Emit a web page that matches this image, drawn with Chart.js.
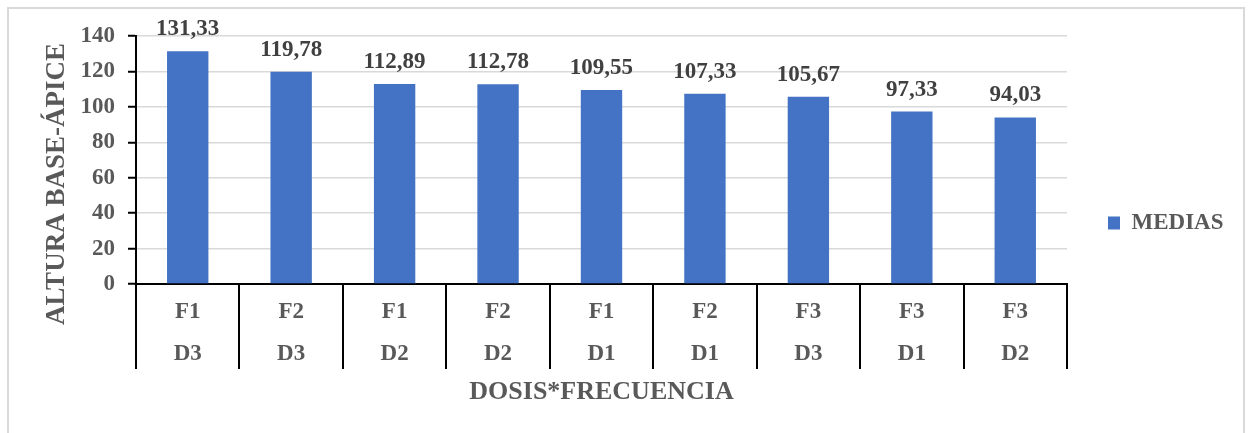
<!DOCTYPE html>
<html>
<head>
<meta charset="utf-8">
<script src="https://cdn.jsdelivr.net/npm/chart.js@4/dist/chart.umd.min.js"></script>
<style>
  html, body { margin: 0; padding: 0; background: #fff; overflow: hidden; }
  #wrap { position: absolute; left: 0; top: 0; width: 1250px; height: 433px; }
  #frame { position: absolute; left: 7px; top: 7px; width: 1238px; height: 460px;
           border: 2px solid #d9d9d9; box-sizing: border-box; pointer-events: none; }
</style>
</head>
<body>
<div id="wrap"><canvas id="c"></canvas></div>
<div id="frame"></div>
<script>
// Treatment combinations (frequency over dose) and their mean heights
const frecuencias = ['F1', 'F2', 'F1', 'F2', 'F1', 'F2', 'F3', 'F3', 'F3'];
const dosis       = ['D3', 'D3', 'D2', 'D2', 'D1', 'D1', 'D3', 'D1', 'D2'];
const medias      = [131.33, 119.78, 112.89, 112.78, 109.55, 107.33, 105.67, 97.33, 94.03];
const yTicks      = [0, 20, 40, 60, 80, 100, 120, 140];

const SERIF = "'Liberation Serif', 'Times New Roman', serif";
const GREY_TEXT = '#595959';

// Two-line category labels: frequency above dose
const categories = frecuencias.map((f, i) => [f, dosis[i]]);

// Value labels over each bar, written with a decimal comma
const barValueLabels = {
  id: 'barValueLabels',
  afterDatasetsDraw(chart) {
    const ctx = chart.ctx;
    const meta = chart.getDatasetMeta(0);
    ctx.save();
    ctx.font = 'bold 23px ' + SERIF;
    ctx.fillStyle = '#404040';
    ctx.textAlign = 'center';
    ctx.textBaseline = 'alphabetic';
    meta.data.forEach((bar, i) => {
      const txt = medias[i].toFixed(2).replace('.', ',');
      ctx.fillText(txt, bar.x, bar.y - 16);
    });
    ctx.restore();
  }
};

// Vertical title of the value axis
const valueAxisTitle = {
  id: 'valueAxisTitle',
  afterDraw(chart) {
    const ctx = chart.ctx;
    const y = chart.scales.y;
    const cx = y.left - 10;
    const cy = (chart.chartArea.top + chart.chartArea.bottom) / 2 + 24;
    ctx.save();
    ctx.translate(cx, cy);
    ctx.rotate(-Math.PI / 2);
    ctx.font = 'bold 27px ' + SERIF;
    ctx.fillStyle = GREY_TEXT;
    ctx.textAlign = 'center';
    ctx.textBaseline = 'middle';
    ctx.fillText('ALTURA BASE-ÁPICE', 0, 0);
    ctx.restore();
  }
};

new Chart(document.getElementById('c'), {
  type: 'bar',
  data: {
    labels: categories,
    datasets: [{
      label: 'MEDIAS',
      data: medias,
      backgroundColor: '#4472C4',
      borderWidth: 0,
      barPercentage: 0.4,
      categoryPercentage: 1.0
    }]
  },
  options: {
    responsive: true,
    maintainAspectRatio: false,
    animation: false,
    layout: { padding: { left: 67.5, top: 36, right: 16.5, bottom: 23 } },
    plugins: {
      tooltip: { enabled: false },
      legend: {
        position: 'right',
        labels: {
          boxWidth: 12,
          boxHeight: 13,
          padding: 41,
          color: GREY_TEXT,
          font: { family: SERIF, size: 23, weight: 'bold' }
        }
      }
    },
    scales: {
      x: {
        offset: true,
        grid: {
          offset: true,
          drawOnChartArea: false,
          drawTicks: true,
          tickLength: 85,
          color: '#000',
          lineWidth: 2
        },
        border: { display: true, color: '#000', width: 2 },
        ticks: {
          autoSkip: false,
          maxRotation: 0,
          padding: -77.5,
          color: GREY_TEXT,
          font: { family: SERIF, size: 23, weight: 'bold', lineHeight: '42px' }
        },
        title: {
          display: true,
          text: 'DOSIS*FRECUENCIA',
          color: GREY_TEXT,
          font: { family: SERIF, size: 26, weight: 'bold' },
          padding: { top: 78.4, bottom: 2.4 }
        }
      },
      y: {
        min: yTicks[0],
        max: yTicks[yTicks.length - 1],
        afterBuildTicks(scale) { scale.ticks = yTicks.map(v => ({ value: v })); },
        grid: {
          color: '#d9d9d9',
          lineWidth: 1.5,
          tickColor: '#000',
          tickWidth: 2,
          tickLength: 8
        },
        border: { display: true, color: '#000', width: 2 },
        ticks: {
          padding: 13,
          color: GREY_TEXT,
          font: { family: SERIF, size: 23, weight: 'bold' }
        }
      }
    }
  },
  plugins: [barValueLabels, valueAxisTitle]
});
</script>
</body>
</html>
